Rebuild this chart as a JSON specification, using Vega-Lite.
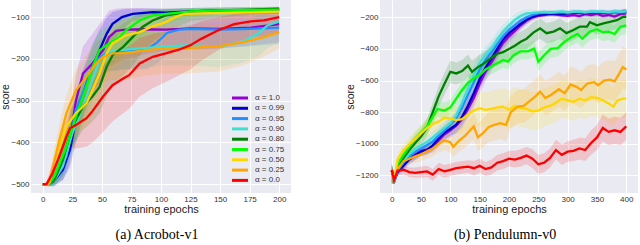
{
"$schema": "https://vega.github.io/schema/vega-lite/v6.json",
"padding": 0,
"background": "white",
"config": {
 "view": {"fill": "#EAEAF2", "stroke": null},
 "concat": {"spacing": 54},
 "axis": {"grid": true, "gridColor": "#FFFFFF", "gridWidth": 1, "gridOpacity": 1, "domain": false, "ticks": false, "tickSize": 0, "labelFont": "Liberation Sans", "labelFontSize": 8, "labelColor": "#333333", "labelPadding": 2, "titleFont": "Liberation Sans", "titleFontSize": 11, "titleFontWeight": "normal", "titleColor": "#222222", "labelOverlap": false, "labelFlush": false},
 "axisY": {"titleFontSize": 10.5, "titlePadding": 2},
 "axisX": {"titlePadding": 0},
 "title": {"font": "Liberation Serif", "fontSize": 14, "fontWeight": "normal", "color": "#000000"},
 "legend": {"orient": "bottom-right", "offset": 6, "padding": 0, "symbolType": "M-3.2,0H3.2", "symbolSize": 25, "symbolStrokeWidth": 3, "symbolOpacity": 1, "labelFont": "Liberation Sans", "labelFontSize": 8, "labelColor": "#333333", "labelOffset": 11, "rowPadding": -1.7}
},
"resolve": {"scale": {"color": "independent"}},
"datasets": {
"acro": [
{"s":"α = 1.0","x":0,"y":-500,"l":-500,"h":-500},
{"s":"α = 1.0","x":5,"y":-500,"l":-505,"h":-495},
{"s":"α = 1.0","x":10,"y":-480,"l":-500,"h":-455},
{"s":"α = 1.0","x":17,"y":-449,"l":-490,"h":-400},
{"s":"α = 1.0","x":23,"y":-394,"l":-450,"h":-330},
{"s":"α = 1.0","x":28,"y":-300,"l":-370,"h":-240},
{"s":"α = 1.0","x":34,"y":-235,"l":-300,"h":-170},
{"s":"α = 1.0","x":42,"y":-211,"l":-280,"h":-140},
{"s":"α = 1.0","x":51,"y":-179,"l":-250,"h":-105},
{"s":"α = 1.0","x":56,"y":-148,"l":-220,"h":-85},
{"s":"α = 1.0","x":62,"y":-133,"l":-210,"h":-80},
{"s":"α = 1.0","x":70,"y":-130,"l":-200,"h":-78},
{"s":"α = 1.0","x":85,"y":-129,"l":-190,"h":-78},
{"s":"α = 1.0","x":104,"y":-130,"l":-180,"h":-80},
{"s":"α = 1.0","x":125,"y":-127,"l":-178,"h":-80},
{"s":"α = 1.0","x":148,"y":-128,"l":-175,"h":-82},
{"s":"α = 1.0","x":176,"y":-125,"l":-168,"h":-82},
{"s":"α = 1.0","x":200,"y":-117,"l":-160,"h":-80},
{"s":"α = 0.99","x":0,"y":-500,"l":-500,"h":-500},
{"s":"α = 0.99","x":5,"y":-500,"l":-505,"h":-495},
{"s":"α = 0.99","x":9,"y":-493,"l":-505,"h":-475},
{"s":"α = 0.99","x":17,"y":-465,"l":-490,"h":-435},
{"s":"α = 0.99","x":23,"y":-417,"l":-460,"h":-370},
{"s":"α = 0.99","x":28,"y":-346,"l":-400,"h":-290},
{"s":"α = 0.99","x":34,"y":-283,"l":-340,"h":-225},
{"s":"α = 0.99","x":42,"y":-219,"l":-270,"h":-165},
{"s":"α = 0.99","x":48,"y":-179,"l":-230,"h":-130},
{"s":"α = 0.99","x":54,"y":-140,"l":-190,"h":-100},
{"s":"α = 0.99","x":59,"y":-116,"l":-160,"h":-88},
{"s":"α = 0.99","x":67,"y":-100,"l":-130,"h":-82},
{"s":"α = 0.99","x":76,"y":-92,"l":-110,"h":-80},
{"s":"α = 0.99","x":93,"y":-88,"l":-100,"h":-80},
{"s":"α = 0.99","x":104,"y":-89,"l":-100,"h":-80},
{"s":"α = 0.99","x":125,"y":-86,"l":-95,"h":-78},
{"s":"α = 0.99","x":150,"y":-84,"l":-92,"h":-77},
{"s":"α = 0.99","x":175,"y":-83,"l":-90,"h":-77},
{"s":"α = 0.99","x":200,"y":-82,"l":-89,"h":-76},
{"s":"α = 0.95","x":0,"y":-500,"l":-500,"h":-500},
{"s":"α = 0.95","x":5,"y":-500,"l":-505,"h":-495},
{"s":"α = 0.95","x":10,"y":-485,"l":-500,"h":-465},
{"s":"α = 0.95","x":20,"y":-433,"l":-470,"h":-395},
{"s":"α = 0.95","x":28,"y":-322,"l":-370,"h":-275},
{"s":"α = 0.95","x":37,"y":-259,"l":-310,"h":-210},
{"s":"α = 0.95","x":45,"y":-203,"l":-250,"h":-160},
{"s":"α = 0.95","x":53,"y":-187,"l":-230,"h":-145},
{"s":"α = 0.95","x":70,"y":-179,"l":-225,"h":-135},
{"s":"α = 0.95","x":88,"y":-178,"l":-225,"h":-130},
{"s":"α = 0.95","x":97,"y":-160,"l":-210,"h":-115},
{"s":"α = 0.95","x":105,"y":-138,"l":-190,"h":-100},
{"s":"α = 0.95","x":115,"y":-130,"l":-180,"h":-95},
{"s":"α = 0.95","x":125,"y":-128,"l":-175,"h":-95},
{"s":"α = 0.95","x":150,"y":-130,"l":-175,"h":-95},
{"s":"α = 0.95","x":175,"y":-128,"l":-170,"h":-95},
{"s":"α = 0.95","x":200,"y":-125,"l":-165,"h":-95},
{"s":"α = 0.90","x":0,"y":-500,"l":-500,"h":-500},
{"s":"α = 0.90","x":5,"y":-500,"l":-505,"h":-495},
{"s":"α = 0.90","x":10,"y":-490,"l":-505,"h":-470},
{"s":"α = 0.90","x":17,"y":-457,"l":-490,"h":-420},
{"s":"α = 0.90","x":25,"y":-378,"l":-420,"h":-330},
{"s":"α = 0.90","x":34,"y":-314,"l":-360,"h":-265},
{"s":"α = 0.90","x":42,"y":-251,"l":-300,"h":-200},
{"s":"α = 0.90","x":48,"y":-203,"l":-250,"h":-160},
{"s":"α = 0.90","x":56,"y":-183,"l":-230,"h":-140},
{"s":"α = 0.90","x":70,"y":-178,"l":-225,"h":-135},
{"s":"α = 0.90","x":104,"y":-170,"l":-215,"h":-130},
{"s":"α = 0.90","x":125,"y":-167,"l":-215,"h":-125},
{"s":"α = 0.90","x":148,"y":-171,"l":-220,"h":-125},
{"s":"α = 0.90","x":168,"y":-160,"l":-210,"h":-115},
{"s":"α = 0.90","x":182,"y":-140,"l":-195,"h":-95},
{"s":"α = 0.90","x":190,"y":-120,"l":-175,"h":-85},
{"s":"α = 0.90","x":200,"y":-110,"l":-160,"h":-80},
{"s":"α = 0.80","x":0,"y":-500,"l":-500,"h":-500},
{"s":"α = 0.80","x":5,"y":-500,"l":-505,"h":-495},
{"s":"α = 0.80","x":10,"y":-488,"l":-505,"h":-465},
{"s":"α = 0.80","x":17,"y":-441,"l":-480,"h":-400},
{"s":"α = 0.80","x":25,"y":-362,"l":-410,"h":-310},
{"s":"α = 0.80","x":34,"y":-314,"l":-370,"h":-260},
{"s":"α = 0.80","x":42,"y":-290,"l":-350,"h":-230},
{"s":"α = 0.80","x":48,"y":-267,"l":-330,"h":-200},
{"s":"α = 0.80","x":54,"y":-219,"l":-290,"h":-160},
{"s":"α = 0.80","x":59,"y":-191,"l":-260,"h":-135},
{"s":"α = 0.80","x":68,"y":-171,"l":-240,"h":-115},
{"s":"α = 0.80","x":76,"y":-148,"l":-215,"h":-100},
{"s":"α = 0.80","x":84,"y":-124,"l":-185,"h":-90},
{"s":"α = 0.80","x":93,"y":-108,"l":-160,"h":-85},
{"s":"α = 0.80","x":104,"y":-96,"l":-135,"h":-82},
{"s":"α = 0.80","x":125,"y":-86,"l":-110,"h":-78},
{"s":"α = 0.80","x":150,"y":-84,"l":-100,"h":-77},
{"s":"α = 0.80","x":175,"y":-82,"l":-95,"h":-76},
{"s":"α = 0.80","x":200,"y":-80,"l":-92,"h":-75},
{"s":"α = 0.75","x":0,"y":-500,"l":-500,"h":-500},
{"s":"α = 0.75","x":5,"y":-500,"l":-505,"h":-495},
{"s":"α = 0.75","x":10,"y":-480,"l":-500,"h":-455},
{"s":"α = 0.75","x":20,"y":-410,"l":-450,"h":-365},
{"s":"α = 0.75","x":28,"y":-338,"l":-390,"h":-285},
{"s":"α = 0.75","x":37,"y":-267,"l":-320,"h":-215},
{"s":"α = 0.75","x":42,"y":-219,"l":-275,"h":-170},
{"s":"α = 0.75","x":48,"y":-179,"l":-230,"h":-135},
{"s":"α = 0.75","x":56,"y":-163,"l":-215,"h":-120},
{"s":"α = 0.75","x":65,"y":-148,"l":-200,"h":-105},
{"s":"α = 0.75","x":70,"y":-132,"l":-185,"h":-95},
{"s":"α = 0.75","x":82,"y":-108,"l":-150,"h":-85},
{"s":"α = 0.75","x":93,"y":-96,"l":-125,"h":-82},
{"s":"α = 0.75","x":104,"y":-92,"l":-115,"h":-80},
{"s":"α = 0.75","x":125,"y":-86,"l":-100,"h":-78},
{"s":"α = 0.75","x":150,"y":-84,"l":-95,"h":-77},
{"s":"α = 0.75","x":200,"y":-82,"l":-92,"h":-76},
{"s":"α = 0.50","x":0,"y":-500,"l":-500,"h":-500},
{"s":"α = 0.50","x":5,"y":-500,"l":-505,"h":-495},
{"s":"α = 0.50","x":8,"y":-470,"l":-490,"h":-450},
{"s":"α = 0.50","x":14,"y":-410,"l":-440,"h":-380},
{"s":"α = 0.50","x":20,"y":-362,"l":-400,"h":-325},
{"s":"α = 0.50","x":28,"y":-330,"l":-380,"h":-285},
{"s":"α = 0.50","x":37,"y":-306,"l":-360,"h":-255},
{"s":"α = 0.50","x":42,"y":-275,"l":-335,"h":-220},
{"s":"α = 0.50","x":48,"y":-235,"l":-300,"h":-180},
{"s":"α = 0.50","x":54,"y":-187,"l":-250,"h":-140},
{"s":"α = 0.50","x":59,"y":-163,"l":-225,"h":-120},
{"s":"α = 0.50","x":70,"y":-144,"l":-200,"h":-105},
{"s":"α = 0.50","x":82,"y":-136,"l":-190,"h":-100},
{"s":"α = 0.50","x":93,"y":-122,"l":-170,"h":-92},
{"s":"α = 0.50","x":104,"y":-112,"l":-155,"h":-88},
{"s":"α = 0.50","x":112,"y":-100,"l":-135,"h":-85},
{"s":"α = 0.50","x":120,"y":-92,"l":-120,"h":-82},
{"s":"α = 0.50","x":150,"y":-90,"l":-110,"h":-80},
{"s":"α = 0.50","x":175,"y":-88,"l":-105,"h":-80},
{"s":"α = 0.50","x":200,"y":-87,"l":-102,"h":-79},
{"s":"α = 0.25","x":0,"y":-500,"l":-500,"h":-500},
{"s":"α = 0.25","x":5,"y":-500,"l":-505,"h":-495},
{"s":"α = 0.25","x":8,"y":-465,"l":-490,"h":-440},
{"s":"α = 0.25","x":14,"y":-394,"l":-430,"h":-355},
{"s":"α = 0.25","x":20,"y":-330,"l":-375,"h":-285},
{"s":"α = 0.25","x":28,"y":-275,"l":-325,"h":-225},
{"s":"α = 0.25","x":37,"y":-243,"l":-300,"h":-190},
{"s":"α = 0.25","x":45,"y":-211,"l":-270,"h":-160},
{"s":"α = 0.25","x":51,"y":-195,"l":-255,"h":-145},
{"s":"α = 0.25","x":59,"y":-187,"l":-250,"h":-135},
{"s":"α = 0.25","x":70,"y":-186,"l":-250,"h":-130},
{"s":"α = 0.25","x":87,"y":-179,"l":-240,"h":-125},
{"s":"α = 0.25","x":104,"y":-175,"l":-235,"h":-120},
{"s":"α = 0.25","x":120,"y":-174,"l":-235,"h":-118},
{"s":"α = 0.25","x":148,"y":-170,"l":-230,"h":-115},
{"s":"α = 0.25","x":170,"y":-160,"l":-215,"h":-110},
{"s":"α = 0.25","x":187,"y":-148,"l":-195,"h":-105},
{"s":"α = 0.25","x":200,"y":-136,"l":-175,"h":-100},
{"s":"α = 0.0","x":0,"y":-500,"l":-500,"h":-500},
{"s":"α = 0.0","x":3,"y":-500,"l":-505,"h":-495},
{"s":"α = 0.0","x":8,"y":-475,"l":-495,"h":-450},
{"s":"α = 0.0","x":14,"y":-433,"l":-465,"h":-400},
{"s":"α = 0.0","x":20,"y":-386,"l":-425,"h":-345},
{"s":"α = 0.0","x":23,"y":-366,"l":-410,"h":-320},
{"s":"α = 0.0","x":27,"y":-360,"l":-415,"h":-305},
{"s":"α = 0.0","x":37,"y":-342,"l":-410,"h":-275},
{"s":"α = 0.0","x":42,"y":-325,"l":-400,"h":-255},
{"s":"α = 0.0","x":51,"y":-290,"l":-375,"h":-215},
{"s":"α = 0.0","x":59,"y":-263,"l":-350,"h":-190},
{"s":"α = 0.0","x":68,"y":-247,"l":-330,"h":-175},
{"s":"α = 0.0","x":73,"y":-239,"l":-320,"h":-170},
{"s":"α = 0.0","x":82,"y":-211,"l":-290,"h":-150},
{"s":"α = 0.0","x":93,"y":-195,"l":-270,"h":-140},
{"s":"α = 0.0","x":104,"y":-187,"l":-255,"h":-135},
{"s":"α = 0.0","x":115,"y":-178,"l":-240,"h":-130},
{"s":"α = 0.0","x":125,"y":-167,"l":-225,"h":-120},
{"s":"α = 0.0","x":134,"y":-152,"l":-205,"h":-110},
{"s":"α = 0.0","x":148,"y":-132,"l":-180,"h":-100},
{"s":"α = 0.0","x":162,"y":-117,"l":-160,"h":-92},
{"s":"α = 0.0","x":176,"y":-110,"l":-150,"h":-88},
{"s":"α = 0.0","x":187,"y":-108,"l":-145,"h":-87},
{"s":"α = 0.0","x":200,"y":-100,"l":-135,"h":-85}
],
"pend": [
{"s":"α = 1.0","x":0,"y":-1170,"l":-1250,"h":-1130},
{"s":"α = 1.0","x":5,"y":-1230,"l":-1255,"h":-1200},
{"s":"α = 1.0","x":10,"y":-1170,"l":-1200,"h":-1140},
{"s":"α = 1.0","x":20,"y":-1130,"l":-1160,"h":-1100},
{"s":"α = 1.0","x":30,"y":-1090,"l":-1120,"h":-1060},
{"s":"α = 1.0","x":40,"y":-1070,"l":-1100,"h":-1040},
{"s":"α = 1.0","x":50,"y":-1045,"l":-1075,"h":-1015},
{"s":"α = 1.0","x":60,"y":-1035,"l":-1065,"h":-1000},
{"s":"α = 1.0","x":70,"y":-1020,"l":-1055,"h":-985},
{"s":"α = 1.0","x":80,"y":-980,"l":-1020,"h":-940},
{"s":"α = 1.0","x":90,"y":-940,"l":-980,"h":-900},
{"s":"α = 1.0","x":100,"y":-915,"l":-960,"h":-870},
{"s":"α = 1.0","x":110,"y":-885,"l":-935,"h":-835},
{"s":"α = 1.0","x":120,"y":-845,"l":-900,"h":-790},
{"s":"α = 1.0","x":130,"y":-780,"l":-840,"h":-720},
{"s":"α = 1.0","x":140,"y":-710,"l":-770,"h":-650},
{"s":"α = 1.0","x":150,"y":-620,"l":-680,"h":-560},
{"s":"α = 1.0","x":160,"y":-545,"l":-605,"h":-485},
{"s":"α = 1.0","x":170,"y":-485,"l":-540,"h":-430},
{"s":"α = 1.0","x":180,"y":-420,"l":-470,"h":-370},
{"s":"α = 1.0","x":190,"y":-360,"l":-405,"h":-315},
{"s":"α = 1.0","x":200,"y":-320,"l":-360,"h":-280},
{"s":"α = 1.0","x":210,"y":-285,"l":-320,"h":-250},
{"s":"α = 1.0","x":220,"y":-250,"l":-280,"h":-220},
{"s":"α = 1.0","x":230,"y":-220,"l":-245,"h":-195},
{"s":"α = 1.0","x":240,"y":-200,"l":-220,"h":-180},
{"s":"α = 1.0","x":250,"y":-190,"l":-205,"h":-175},
{"s":"α = 1.0","x":260,"y":-185,"l":-200,"h":-170},
{"s":"α = 1.0","x":270,"y":-180,"l":-195,"h":-165},
{"s":"α = 1.0","x":280,"y":-182,"l":-197,"h":-167},
{"s":"α = 1.0","x":290,"y":-188,"l":-203,"h":-173},
{"s":"α = 1.0","x":300,"y":-190,"l":-205,"h":-175},
{"s":"α = 1.0","x":310,"y":-185,"l":-200,"h":-170},
{"s":"α = 1.0","x":320,"y":-192,"l":-207,"h":-177},
{"s":"α = 1.0","x":330,"y":-180,"l":-195,"h":-165},
{"s":"α = 1.0","x":340,"y":-185,"l":-200,"h":-170},
{"s":"α = 1.0","x":350,"y":-178,"l":-193,"h":-163},
{"s":"α = 1.0","x":360,"y":-190,"l":-205,"h":-175},
{"s":"α = 1.0","x":370,"y":-185,"l":-200,"h":-170},
{"s":"α = 1.0","x":380,"y":-195,"l":-210,"h":-180},
{"s":"α = 1.0","x":390,"y":-180,"l":-195,"h":-165},
{"s":"α = 1.0","x":400,"y":-175,"l":-190,"h":-160},
{"s":"α = 0.99","x":0,"y":-1170,"l":-1250,"h":-1130},
{"s":"α = 0.99","x":5,"y":-1230,"l":-1255,"h":-1200},
{"s":"α = 0.99","x":10,"y":-1180,"l":-1205,"h":-1150},
{"s":"α = 0.99","x":20,"y":-1140,"l":-1170,"h":-1110},
{"s":"α = 0.99","x":30,"y":-1100,"l":-1130,"h":-1070},
{"s":"α = 0.99","x":40,"y":-1075,"l":-1105,"h":-1045},
{"s":"α = 0.99","x":50,"y":-1050,"l":-1080,"h":-1020},
{"s":"α = 0.99","x":60,"y":-1040,"l":-1070,"h":-1005},
{"s":"α = 0.99","x":70,"y":-1010,"l":-1045,"h":-975},
{"s":"α = 0.99","x":80,"y":-965,"l":-1005,"h":-925},
{"s":"α = 0.99","x":90,"y":-930,"l":-970,"h":-890},
{"s":"α = 0.99","x":100,"y":-905,"l":-950,"h":-860},
{"s":"α = 0.99","x":110,"y":-880,"l":-930,"h":-830},
{"s":"α = 0.99","x":120,"y":-830,"l":-885,"h":-775},
{"s":"α = 0.99","x":130,"y":-760,"l":-820,"h":-700},
{"s":"α = 0.99","x":140,"y":-680,"l":-740,"h":-620},
{"s":"α = 0.99","x":150,"y":-590,"l":-650,"h":-530},
{"s":"α = 0.99","x":160,"y":-520,"l":-580,"h":-460},
{"s":"α = 0.99","x":170,"y":-460,"l":-515,"h":-405},
{"s":"α = 0.99","x":180,"y":-400,"l":-450,"h":-350},
{"s":"α = 0.99","x":190,"y":-340,"l":-385,"h":-295},
{"s":"α = 0.99","x":200,"y":-300,"l":-340,"h":-260},
{"s":"α = 0.99","x":210,"y":-270,"l":-305,"h":-235},
{"s":"α = 0.99","x":220,"y":-240,"l":-270,"h":-210},
{"s":"α = 0.99","x":230,"y":-215,"l":-240,"h":-190},
{"s":"α = 0.99","x":240,"y":-195,"l":-215,"h":-175},
{"s":"α = 0.99","x":250,"y":-185,"l":-200,"h":-170},
{"s":"α = 0.99","x":260,"y":-180,"l":-195,"h":-165},
{"s":"α = 0.99","x":270,"y":-178,"l":-192,"h":-164},
{"s":"α = 0.99","x":280,"y":-175,"l":-190,"h":-160},
{"s":"α = 0.99","x":290,"y":-180,"l":-195,"h":-165},
{"s":"α = 0.99","x":300,"y":-175,"l":-190,"h":-160},
{"s":"α = 0.99","x":310,"y":-172,"l":-187,"h":-157},
{"s":"α = 0.99","x":320,"y":-170,"l":-185,"h":-155},
{"s":"α = 0.99","x":330,"y":-175,"l":-190,"h":-160},
{"s":"α = 0.99","x":340,"y":-168,"l":-183,"h":-153},
{"s":"α = 0.99","x":350,"y":-170,"l":-185,"h":-155},
{"s":"α = 0.99","x":360,"y":-168,"l":-183,"h":-153},
{"s":"α = 0.99","x":370,"y":-172,"l":-187,"h":-157},
{"s":"α = 0.99","x":380,"y":-165,"l":-180,"h":-150},
{"s":"α = 0.99","x":390,"y":-168,"l":-183,"h":-153},
{"s":"α = 0.99","x":400,"y":-162,"l":-177,"h":-147},
{"s":"α = 0.95","x":0,"y":-1170,"l":-1250,"h":-1130},
{"s":"α = 0.95","x":5,"y":-1230,"l":-1255,"h":-1200},
{"s":"α = 0.95","x":10,"y":-1170,"l":-1200,"h":-1140},
{"s":"α = 0.95","x":20,"y":-1120,"l":-1150,"h":-1090},
{"s":"α = 0.95","x":30,"y":-1080,"l":-1110,"h":-1050},
{"s":"α = 0.95","x":40,"y":-1050,"l":-1080,"h":-1020},
{"s":"α = 0.95","x":50,"y":-1030,"l":-1060,"h":-1000},
{"s":"α = 0.95","x":60,"y":-1010,"l":-1045,"h":-975},
{"s":"α = 0.95","x":70,"y":-985,"l":-1020,"h":-950},
{"s":"α = 0.95","x":80,"y":-950,"l":-990,"h":-910},
{"s":"α = 0.95","x":90,"y":-915,"l":-955,"h":-875},
{"s":"α = 0.95","x":100,"y":-880,"l":-925,"h":-835},
{"s":"α = 0.95","x":110,"y":-840,"l":-890,"h":-790},
{"s":"α = 0.95","x":120,"y":-770,"l":-825,"h":-715},
{"s":"α = 0.95","x":130,"y":-690,"l":-750,"h":-630},
{"s":"α = 0.95","x":140,"y":-610,"l":-670,"h":-550},
{"s":"α = 0.95","x":150,"y":-530,"l":-590,"h":-470},
{"s":"α = 0.95","x":160,"y":-470,"l":-530,"h":-410},
{"s":"α = 0.95","x":170,"y":-420,"l":-475,"h":-365},
{"s":"α = 0.95","x":180,"y":-370,"l":-420,"h":-320},
{"s":"α = 0.95","x":190,"y":-320,"l":-365,"h":-275},
{"s":"α = 0.95","x":200,"y":-280,"l":-320,"h":-240},
{"s":"α = 0.95","x":210,"y":-250,"l":-285,"h":-215},
{"s":"α = 0.95","x":220,"y":-220,"l":-250,"h":-190},
{"s":"α = 0.95","x":230,"y":-200,"l":-225,"h":-175},
{"s":"α = 0.95","x":240,"y":-185,"l":-205,"h":-165},
{"s":"α = 0.95","x":250,"y":-175,"l":-190,"h":-160},
{"s":"α = 0.95","x":260,"y":-172,"l":-187,"h":-157},
{"s":"α = 0.95","x":270,"y":-170,"l":-185,"h":-155},
{"s":"α = 0.95","x":280,"y":-172,"l":-187,"h":-157},
{"s":"α = 0.95","x":290,"y":-168,"l":-183,"h":-153},
{"s":"α = 0.95","x":300,"y":-172,"l":-187,"h":-157},
{"s":"α = 0.95","x":310,"y":-165,"l":-180,"h":-150},
{"s":"α = 0.95","x":320,"y":-168,"l":-183,"h":-153},
{"s":"α = 0.95","x":330,"y":-170,"l":-185,"h":-155},
{"s":"α = 0.95","x":340,"y":-165,"l":-180,"h":-150},
{"s":"α = 0.95","x":350,"y":-168,"l":-183,"h":-153},
{"s":"α = 0.95","x":360,"y":-165,"l":-180,"h":-150},
{"s":"α = 0.95","x":370,"y":-170,"l":-185,"h":-155},
{"s":"α = 0.95","x":380,"y":-165,"l":-180,"h":-150},
{"s":"α = 0.95","x":390,"y":-168,"l":-183,"h":-153},
{"s":"α = 0.95","x":400,"y":-165,"l":-180,"h":-150},
{"s":"α = 0.90","x":0,"y":-1170,"l":-1250,"h":-1130},
{"s":"α = 0.90","x":5,"y":-1230,"l":-1255,"h":-1200},
{"s":"α = 0.90","x":10,"y":-1160,"l":-1190,"h":-1130},
{"s":"α = 0.90","x":20,"y":-1110,"l":-1140,"h":-1080},
{"s":"α = 0.90","x":30,"y":-1065,"l":-1095,"h":-1035},
{"s":"α = 0.90","x":40,"y":-1035,"l":-1065,"h":-1005},
{"s":"α = 0.90","x":50,"y":-1010,"l":-1040,"h":-980},
{"s":"α = 0.90","x":60,"y":-990,"l":-1025,"h":-955},
{"s":"α = 0.90","x":70,"y":-960,"l":-995,"h":-925},
{"s":"α = 0.90","x":80,"y":-930,"l":-970,"h":-890},
{"s":"α = 0.90","x":90,"y":-900,"l":-940,"h":-860},
{"s":"α = 0.90","x":100,"y":-870,"l":-915,"h":-825},
{"s":"α = 0.90","x":110,"y":-820,"l":-870,"h":-770},
{"s":"α = 0.90","x":120,"y":-740,"l":-795,"h":-685},
{"s":"α = 0.90","x":130,"y":-650,"l":-710,"h":-590},
{"s":"α = 0.90","x":140,"y":-570,"l":-630,"h":-510},
{"s":"α = 0.90","x":150,"y":-490,"l":-550,"h":-430},
{"s":"α = 0.90","x":160,"y":-440,"l":-500,"h":-380},
{"s":"α = 0.90","x":170,"y":-400,"l":-455,"h":-345},
{"s":"α = 0.90","x":180,"y":-340,"l":-390,"h":-290},
{"s":"α = 0.90","x":190,"y":-290,"l":-335,"h":-245},
{"s":"α = 0.90","x":200,"y":-250,"l":-290,"h":-210},
{"s":"α = 0.90","x":210,"y":-215,"l":-250,"h":-180},
{"s":"α = 0.90","x":220,"y":-190,"l":-220,"h":-160},
{"s":"α = 0.90","x":230,"y":-175,"l":-200,"h":-150},
{"s":"α = 0.90","x":240,"y":-172,"l":-192,"h":-152},
{"s":"α = 0.90","x":250,"y":-168,"l":-183,"h":-153},
{"s":"α = 0.90","x":260,"y":-165,"l":-180,"h":-150},
{"s":"α = 0.90","x":270,"y":-170,"l":-185,"h":-155},
{"s":"α = 0.90","x":280,"y":-165,"l":-180,"h":-150},
{"s":"α = 0.90","x":290,"y":-162,"l":-177,"h":-147},
{"s":"α = 0.90","x":300,"y":-168,"l":-183,"h":-153},
{"s":"α = 0.90","x":310,"y":-165,"l":-180,"h":-150},
{"s":"α = 0.90","x":320,"y":-162,"l":-177,"h":-147},
{"s":"α = 0.90","x":330,"y":-168,"l":-183,"h":-153},
{"s":"α = 0.90","x":340,"y":-164,"l":-179,"h":-149},
{"s":"α = 0.90","x":350,"y":-162,"l":-177,"h":-147},
{"s":"α = 0.90","x":360,"y":-165,"l":-180,"h":-150},
{"s":"α = 0.90","x":370,"y":-168,"l":-183,"h":-153},
{"s":"α = 0.90","x":380,"y":-160,"l":-175,"h":-145},
{"s":"α = 0.90","x":390,"y":-165,"l":-180,"h":-150},
{"s":"α = 0.90","x":400,"y":-160,"l":-175,"h":-145},
{"s":"α = 0.80","x":0,"y":-1170,"l":-1250,"h":-1130},
{"s":"α = 0.80","x":5,"y":-1220,"l":-1250,"h":-1190},
{"s":"α = 0.80","x":10,"y":-1150,"l":-1180,"h":-1120},
{"s":"α = 0.80","x":20,"y":-1090,"l":-1125,"h":-1055},
{"s":"α = 0.80","x":30,"y":-1040,"l":-1080,"h":-1000},
{"s":"α = 0.80","x":40,"y":-995,"l":-1040,"h":-950},
{"s":"α = 0.80","x":50,"y":-955,"l":-1005,"h":-905},
{"s":"α = 0.80","x":60,"y":-900,"l":-955,"h":-845},
{"s":"α = 0.80","x":70,"y":-800,"l":-860,"h":-740},
{"s":"α = 0.80","x":80,"y":-700,"l":-765,"h":-635},
{"s":"α = 0.80","x":90,"y":-620,"l":-690,"h":-550},
{"s":"α = 0.80","x":100,"y":-545,"l":-615,"h":-475},
{"s":"α = 0.80","x":110,"y":-555,"l":-625,"h":-485},
{"s":"α = 0.80","x":120,"y":-540,"l":-610,"h":-470},
{"s":"α = 0.80","x":130,"y":-505,"l":-575,"h":-435},
{"s":"α = 0.80","x":137,"y":-545,"l":-615,"h":-475},
{"s":"α = 0.80","x":147,"y":-515,"l":-585,"h":-445},
{"s":"α = 0.80","x":158,"y":-490,"l":-560,"h":-420},
{"s":"α = 0.80","x":170,"y":-455,"l":-525,"h":-385},
{"s":"α = 0.80","x":180,"y":-430,"l":-500,"h":-360},
{"s":"α = 0.80","x":190,"y":-420,"l":-490,"h":-350},
{"s":"α = 0.80","x":200,"y":-400,"l":-470,"h":-330},
{"s":"α = 0.80","x":210,"y":-380,"l":-450,"h":-310},
{"s":"α = 0.80","x":220,"y":-355,"l":-420,"h":-290},
{"s":"α = 0.80","x":230,"y":-335,"l":-400,"h":-270},
{"s":"α = 0.80","x":242,"y":-295,"l":-360,"h":-230},
{"s":"α = 0.80","x":253,"y":-270,"l":-335,"h":-205},
{"s":"α = 0.80","x":264,"y":-300,"l":-365,"h":-235},
{"s":"α = 0.80","x":276,"y":-290,"l":-355,"h":-225},
{"s":"α = 0.80","x":287,"y":-270,"l":-335,"h":-205},
{"s":"α = 0.80","x":298,"y":-300,"l":-365,"h":-235},
{"s":"α = 0.80","x":310,"y":-280,"l":-345,"h":-215},
{"s":"α = 0.80","x":321,"y":-258,"l":-320,"h":-195},
{"s":"α = 0.80","x":333,"y":-258,"l":-320,"h":-195},
{"s":"α = 0.80","x":338,"y":-230,"l":-290,"h":-170},
{"s":"α = 0.80","x":350,"y":-250,"l":-310,"h":-190},
{"s":"α = 0.80","x":361,"y":-238,"l":-295,"h":-180},
{"s":"α = 0.80","x":372,"y":-228,"l":-285,"h":-170},
{"s":"α = 0.80","x":384,"y":-218,"l":-275,"h":-160},
{"s":"α = 0.80","x":395,"y":-196,"l":-250,"h":-145},
{"s":"α = 0.80","x":400,"y":-196,"l":-250,"h":-145},
{"s":"α = 0.75","x":0,"y":-1170,"l":-1250,"h":-1130},
{"s":"α = 0.75","x":5,"y":-1220,"l":-1250,"h":-1190},
{"s":"α = 0.75","x":10,"y":-1130,"l":-1160,"h":-1100},
{"s":"α = 0.75","x":20,"y":-1070,"l":-1105,"h":-1035},
{"s":"α = 0.75","x":30,"y":-1020,"l":-1060,"h":-980},
{"s":"α = 0.75","x":40,"y":-970,"l":-1015,"h":-925},
{"s":"α = 0.75","x":50,"y":-930,"l":-975,"h":-885},
{"s":"α = 0.75","x":60,"y":-890,"l":-940,"h":-840},
{"s":"α = 0.75","x":70,"y":-830,"l":-880,"h":-780},
{"s":"α = 0.75","x":78,"y":-780,"l":-830,"h":-730},
{"s":"α = 0.75","x":90,"y":-790,"l":-840,"h":-740},
{"s":"α = 0.75","x":100,"y":-770,"l":-820,"h":-720},
{"s":"α = 0.75","x":110,"y":-715,"l":-765,"h":-665},
{"s":"α = 0.75","x":120,"y":-660,"l":-710,"h":-610},
{"s":"α = 0.75","x":130,"y":-615,"l":-665,"h":-565},
{"s":"α = 0.75","x":140,"y":-585,"l":-635,"h":-535},
{"s":"α = 0.75","x":150,"y":-565,"l":-615,"h":-515},
{"s":"α = 0.75","x":160,"y":-530,"l":-580,"h":-480},
{"s":"α = 0.75","x":170,"y":-510,"l":-560,"h":-460},
{"s":"α = 0.75","x":180,"y":-490,"l":-540,"h":-440},
{"s":"α = 0.75","x":190,"y":-470,"l":-520,"h":-420},
{"s":"α = 0.75","x":198,"y":-480,"l":-530,"h":-430},
{"s":"α = 0.75","x":208,"y":-440,"l":-490,"h":-390},
{"s":"α = 0.75","x":220,"y":-415,"l":-465,"h":-365},
{"s":"α = 0.75","x":232,"y":-415,"l":-465,"h":-365},
{"s":"α = 0.75","x":243,"y":-398,"l":-450,"h":-345},
{"s":"α = 0.75","x":250,"y":-480,"l":-540,"h":-420},
{"s":"α = 0.75","x":260,"y":-440,"l":-495,"h":-385},
{"s":"α = 0.75","x":271,"y":-400,"l":-455,"h":-345},
{"s":"α = 0.75","x":283,"y":-395,"l":-450,"h":-340},
{"s":"α = 0.75","x":293,"y":-360,"l":-415,"h":-305},
{"s":"α = 0.75","x":306,"y":-325,"l":-380,"h":-270},
{"s":"α = 0.75","x":317,"y":-305,"l":-360,"h":-250},
{"s":"α = 0.75","x":325,"y":-335,"l":-390,"h":-280},
{"s":"α = 0.75","x":338,"y":-290,"l":-345,"h":-235},
{"s":"α = 0.75","x":350,"y":-275,"l":-330,"h":-220},
{"s":"α = 0.75","x":360,"y":-295,"l":-350,"h":-240},
{"s":"α = 0.75","x":370,"y":-290,"l":-345,"h":-235},
{"s":"α = 0.75","x":380,"y":-305,"l":-360,"h":-250},
{"s":"α = 0.75","x":390,"y":-260,"l":-315,"h":-205},
{"s":"α = 0.75","x":400,"y":-250,"l":-305,"h":-195},
{"s":"α = 0.50","x":0,"y":-1200,"l":-1250,"h":-1140},
{"s":"α = 0.50","x":5,"y":-1210,"l":-1240,"h":-1180},
{"s":"α = 0.50","x":10,"y":-1100,"l":-1140,"h":-1060},
{"s":"α = 0.50","x":20,"y":-1040,"l":-1080,"h":-1000},
{"s":"α = 0.50","x":30,"y":-1005,"l":-1050,"h":-960},
{"s":"α = 0.50","x":40,"y":-970,"l":-1020,"h":-920},
{"s":"α = 0.50","x":50,"y":-935,"l":-990,"h":-880},
{"s":"α = 0.50","x":60,"y":-900,"l":-960,"h":-840},
{"s":"α = 0.50","x":70,"y":-875,"l":-940,"h":-810},
{"s":"α = 0.50","x":80,"y":-860,"l":-930,"h":-790},
{"s":"α = 0.50","x":90,"y":-835,"l":-910,"h":-760},
{"s":"α = 0.50","x":100,"y":-840,"l":-920,"h":-760},
{"s":"α = 0.50","x":110,"y":-850,"l":-935,"h":-765},
{"s":"α = 0.50","x":120,"y":-845,"l":-935,"h":-755},
{"s":"α = 0.50","x":130,"y":-815,"l":-910,"h":-720},
{"s":"α = 0.50","x":140,"y":-790,"l":-890,"h":-690},
{"s":"α = 0.50","x":150,"y":-775,"l":-880,"h":-670},
{"s":"α = 0.50","x":160,"y":-785,"l":-895,"h":-675},
{"s":"α = 0.50","x":170,"y":-780,"l":-895,"h":-665},
{"s":"α = 0.50","x":180,"y":-770,"l":-885,"h":-655},
{"s":"α = 0.50","x":190,"y":-765,"l":-885,"h":-645},
{"s":"α = 0.50","x":200,"y":-785,"l":-905,"h":-665},
{"s":"α = 0.50","x":210,"y":-760,"l":-880,"h":-640},
{"s":"α = 0.50","x":220,"y":-775,"l":-895,"h":-655},
{"s":"α = 0.50","x":230,"y":-780,"l":-900,"h":-660},
{"s":"α = 0.50","x":240,"y":-795,"l":-915,"h":-675},
{"s":"α = 0.50","x":250,"y":-790,"l":-910,"h":-670},
{"s":"α = 0.50","x":260,"y":-770,"l":-890,"h":-650},
{"s":"α = 0.50","x":270,"y":-760,"l":-880,"h":-640},
{"s":"α = 0.50","x":280,"y":-740,"l":-860,"h":-620},
{"s":"α = 0.50","x":290,"y":-715,"l":-835,"h":-595},
{"s":"α = 0.50","x":300,"y":-725,"l":-845,"h":-605},
{"s":"α = 0.50","x":310,"y":-735,"l":-855,"h":-615},
{"s":"α = 0.50","x":320,"y":-715,"l":-835,"h":-595},
{"s":"α = 0.50","x":330,"y":-725,"l":-845,"h":-605},
{"s":"α = 0.50","x":340,"y":-705,"l":-825,"h":-585},
{"s":"α = 0.50","x":350,"y":-710,"l":-830,"h":-590},
{"s":"α = 0.50","x":360,"y":-725,"l":-845,"h":-605},
{"s":"α = 0.50","x":370,"y":-745,"l":-865,"h":-625},
{"s":"α = 0.50","x":378,"y":-765,"l":-885,"h":-645},
{"s":"α = 0.50","x":385,"y":-725,"l":-845,"h":-605},
{"s":"α = 0.50","x":395,"y":-715,"l":-835,"h":-595},
{"s":"α = 0.50","x":400,"y":-715,"l":-835,"h":-595},
{"s":"α = 0.25","x":0,"y":-1200,"l":-1250,"h":-1140},
{"s":"α = 0.25","x":5,"y":-1220,"l":-1250,"h":-1190},
{"s":"α = 0.25","x":10,"y":-1160,"l":-1190,"h":-1130},
{"s":"α = 0.25","x":20,"y":-1110,"l":-1145,"h":-1075},
{"s":"α = 0.25","x":30,"y":-1095,"l":-1130,"h":-1060},
{"s":"α = 0.25","x":40,"y":-1080,"l":-1120,"h":-1040},
{"s":"α = 0.25","x":50,"y":-1068,"l":-1110,"h":-1025},
{"s":"α = 0.25","x":60,"y":-1048,"l":-1095,"h":-1000},
{"s":"α = 0.25","x":70,"y":-1030,"l":-1080,"h":-980},
{"s":"α = 0.25","x":80,"y":-1000,"l":-1055,"h":-945},
{"s":"α = 0.25","x":90,"y":-980,"l":-1040,"h":-920},
{"s":"α = 0.25","x":100,"y":-990,"l":-1055,"h":-925},
{"s":"α = 0.25","x":105,"y":-1020,"l":-1085,"h":-955},
{"s":"α = 0.25","x":115,"y":-980,"l":-1050,"h":-910},
{"s":"α = 0.25","x":125,"y":-950,"l":-1025,"h":-875},
{"s":"α = 0.25","x":135,"y":-910,"l":-990,"h":-830},
{"s":"α = 0.25","x":140,"y":-890,"l":-975,"h":-805},
{"s":"α = 0.25","x":147,"y":-960,"l":-1045,"h":-875},
{"s":"α = 0.25","x":155,"y":-935,"l":-1025,"h":-845},
{"s":"α = 0.25","x":165,"y":-895,"l":-990,"h":-800},
{"s":"α = 0.25","x":175,"y":-880,"l":-980,"h":-780},
{"s":"α = 0.25","x":185,"y":-870,"l":-970,"h":-770},
{"s":"α = 0.25","x":195,"y":-880,"l":-985,"h":-775},
{"s":"α = 0.25","x":203,"y":-800,"l":-905,"h":-695},
{"s":"α = 0.25","x":215,"y":-765,"l":-870,"h":-660},
{"s":"α = 0.25","x":225,"y":-760,"l":-865,"h":-655},
{"s":"α = 0.25","x":235,"y":-730,"l":-840,"h":-620},
{"s":"α = 0.25","x":245,"y":-700,"l":-810,"h":-590},
{"s":"α = 0.25","x":253,"y":-670,"l":-780,"h":-560},
{"s":"α = 0.25","x":262,"y":-710,"l":-820,"h":-600},
{"s":"α = 0.25","x":272,"y":-690,"l":-800,"h":-580},
{"s":"α = 0.25","x":285,"y":-655,"l":-765,"h":-545},
{"s":"α = 0.25","x":295,"y":-680,"l":-790,"h":-570},
{"s":"α = 0.25","x":305,"y":-625,"l":-740,"h":-510},
{"s":"α = 0.25","x":315,"y":-640,"l":-755,"h":-525},
{"s":"α = 0.25","x":323,"y":-660,"l":-775,"h":-545},
{"s":"α = 0.25","x":333,"y":-620,"l":-735,"h":-505},
{"s":"α = 0.25","x":345,"y":-610,"l":-725,"h":-495},
{"s":"α = 0.25","x":352,"y":-630,"l":-745,"h":-515},
{"s":"α = 0.25","x":362,"y":-600,"l":-720,"h":-480},
{"s":"α = 0.25","x":372,"y":-595,"l":-720,"h":-470},
{"s":"α = 0.25","x":380,"y":-605,"l":-730,"h":-480},
{"s":"α = 0.25","x":389,"y":-550,"l":-680,"h":-420},
{"s":"α = 0.25","x":394,"y":-515,"l":-650,"h":-385},
{"s":"α = 0.25","x":400,"y":-530,"l":-660,"h":-400},
{"s":"α = 0.0","x":0,"y":-1165,"l":-1250,"h":-1135},
{"s":"α = 0.0","x":4,"y":-1230,"l":-1260,"h":-1200},
{"s":"α = 0.0","x":10,"y":-1170,"l":-1200,"h":-1140},
{"s":"α = 0.0","x":20,"y":-1165,"l":-1195,"h":-1135},
{"s":"α = 0.0","x":30,"y":-1180,"l":-1210,"h":-1150},
{"s":"α = 0.0","x":40,"y":-1185,"l":-1215,"h":-1150},
{"s":"α = 0.0","x":50,"y":-1180,"l":-1215,"h":-1145},
{"s":"α = 0.0","x":60,"y":-1175,"l":-1210,"h":-1140},
{"s":"α = 0.0","x":70,"y":-1195,"l":-1235,"h":-1160},
{"s":"α = 0.0","x":80,"y":-1160,"l":-1200,"h":-1120},
{"s":"α = 0.0","x":90,"y":-1175,"l":-1215,"h":-1135},
{"s":"α = 0.0","x":100,"y":-1165,"l":-1205,"h":-1125},
{"s":"α = 0.0","x":110,"y":-1155,"l":-1195,"h":-1115},
{"s":"α = 0.0","x":120,"y":-1150,"l":-1190,"h":-1110},
{"s":"α = 0.0","x":130,"y":-1145,"l":-1185,"h":-1105},
{"s":"α = 0.0","x":140,"y":-1155,"l":-1200,"h":-1110},
{"s":"α = 0.0","x":150,"y":-1140,"l":-1185,"h":-1095},
{"s":"α = 0.0","x":160,"y":-1160,"l":-1205,"h":-1115},
{"s":"α = 0.0","x":170,"y":-1150,"l":-1195,"h":-1100},
{"s":"α = 0.0","x":180,"y":-1120,"l":-1170,"h":-1070},
{"s":"α = 0.0","x":190,"y":-1110,"l":-1160,"h":-1060},
{"s":"α = 0.0","x":200,"y":-1095,"l":-1145,"h":-1045},
{"s":"α = 0.0","x":210,"y":-1100,"l":-1150,"h":-1045},
{"s":"α = 0.0","x":220,"y":-1090,"l":-1145,"h":-1035},
{"s":"α = 0.0","x":230,"y":-1075,"l":-1130,"h":-1020},
{"s":"α = 0.0","x":240,"y":-1095,"l":-1155,"h":-1035},
{"s":"α = 0.0","x":250,"y":-1130,"l":-1190,"h":-1070},
{"s":"α = 0.0","x":260,"y":-1120,"l":-1180,"h":-1060},
{"s":"α = 0.0","x":270,"y":-1090,"l":-1150,"h":-1030},
{"s":"α = 0.0","x":280,"y":-1040,"l":-1100,"h":-975},
{"s":"α = 0.0","x":290,"y":-1070,"l":-1135,"h":-1005},
{"s":"α = 0.0","x":300,"y":-1050,"l":-1115,"h":-985},
{"s":"α = 0.0","x":310,"y":-1045,"l":-1110,"h":-975},
{"s":"α = 0.0","x":320,"y":-1030,"l":-1100,"h":-960},
{"s":"α = 0.0","x":330,"y":-1040,"l":-1110,"h":-965},
{"s":"α = 0.0","x":340,"y":-995,"l":-1070,"h":-915},
{"s":"α = 0.0","x":350,"y":-960,"l":-1040,"h":-880},
{"s":"α = 0.0","x":360,"y":-900,"l":-985,"h":-815},
{"s":"α = 0.0","x":370,"y":-925,"l":-1010,"h":-840},
{"s":"α = 0.0","x":380,"y":-915,"l":-1000,"h":-830},
{"s":"α = 0.0","x":390,"y":-925,"l":-1010,"h":-835},
{"s":"α = 0.0","x":400,"y":-890,"l":-975,"h":-800}
]
},
"hconcat": [
 {
  "width": 260, "height": 193,
  "title": {"text": "(a) Acrobot-v1", "orient": "bottom", "anchor": "middle", "frame": "group", "offset": 14, "dx": -4},
  "data": {"name": "acro"},
  "encoding": {
   "x": {"field": "x", "type": "quantitative", "scale": {"domain": [-10, 210], "nice": false, "zero": false}, "axis": {"values": [0,25,50,75,100,125,150,175,200], "title": "training epochs", "format": "d"}},
   "color": {"field": "s", "type": "nominal", "title": null, "scale": {"domain": ["α = 1.0","α = 0.99","α = 0.95","α = 0.90","α = 0.80","α = 0.75","α = 0.50","α = 0.25","α = 0.0"], "range": ["#9400D3","#0000CD","#1E90FF","#40E0D0","#008000","#00FF00","#FFD700","#FFA500","#FF0000"]}}
  },
  "layer": [
   {"mark": {"type": "area", "opacity": 0.16},
    "encoding": {
     "y": {"field": "l", "type": "quantitative", "scale": {"domain": [-521, -59], "nice": false, "zero": false}, "axis": {"values": [-500,-400,-300,-200,-100], "title": "score", "format": "d", "minExtent": 19, "maxExtent": 19}},
     "y2": {"field": "h"}
    }},
   {"mark": {"type": "line", "strokeWidth": 2.3},
    "encoding": {
     "y": {"field": "y", "type": "quantitative", "axis": {"values": [-500,-400,-300,-200,-100], "title": "score", "format": "d", "minExtent": 19, "maxExtent": 19}}
    }}
  ]
 },
 {
  "width": 258, "height": 193,
  "title": {"text": "(b) Pendulumn-v0", "orient": "bottom", "anchor": "middle", "frame": "group", "offset": 14, "dx": -4},
  "data": {"name": "pend"},
  "encoding": {
   "x": {"field": "x", "type": "quantitative", "scale": {"domain": [-20, 420], "nice": false, "zero": false}, "axis": {"values": [0,50,100,150,200,250,300,350,400], "title": "training epochs", "format": "d"}},
   "color": {"field": "s", "type": "nominal", "legend": null, "scale": {"domain": ["α = 1.0","α = 0.99","α = 0.95","α = 0.90","α = 0.80","α = 0.75","α = 0.50","α = 0.25","α = 0.0"], "range": ["#9400D3","#0000CD","#1E90FF","#40E0D0","#008000","#00FF00","#FFD700","#FFA500","#FF0000"]}}
  },
  "layer": [
   {"mark": {"type": "area", "opacity": 0.16},
    "encoding": {
     "y": {"field": "l", "type": "quantitative", "scale": {"domain": [-1312, -90], "nice": false, "zero": false}, "axis": {"values": [-1200,-1000,-800,-600,-400,-200], "title": "score", "format": "d", "minExtent": 23, "maxExtent": 23}},
     "y2": {"field": "h"}
    }},
   {"mark": {"type": "line", "strokeWidth": 2.3},
    "encoding": {
     "y": {"field": "y", "type": "quantitative", "axis": {"values": [-1200,-1000,-800,-600,-400,-200], "title": "score", "format": "d", "minExtent": 23, "maxExtent": 23}}
    }}
  ]
 }
]
}
